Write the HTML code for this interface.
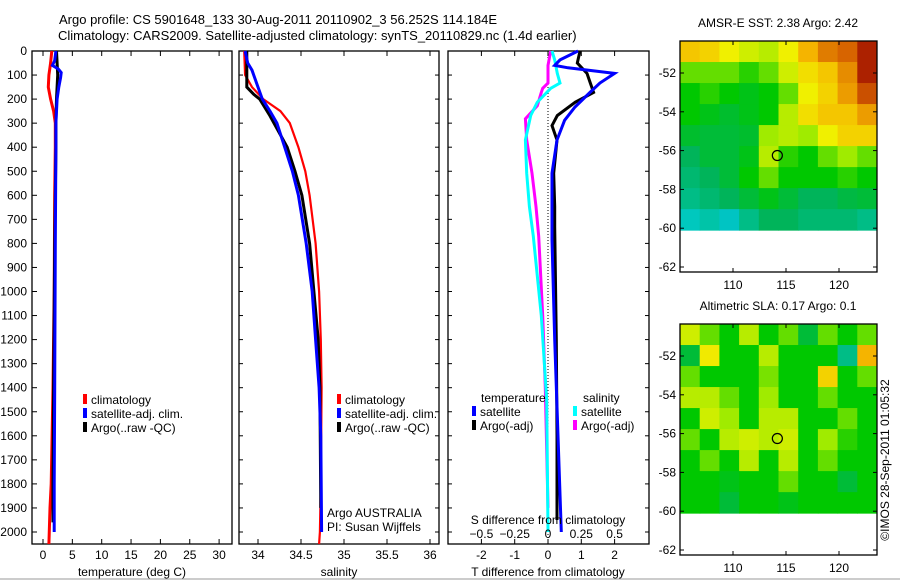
<!DOCTYPE html>
<html><head><meta charset="utf-8"><style>
html,body{margin:0;padding:0;background:#fff}
svg{display:block;font-family:"Liberation Sans",sans-serif;font-size:12px}
</style></head><body>
<svg id="c" width="900" height="580" viewBox="0 0 900 580">
<text x="59" y="24" font-size="13">Argo profile: CS 5901648_133 30-Aug-2011 20110902_3 56.252S 114.184E</text>
<text x="58" y="40" font-size="13">Climatology: CARS2009. Satellite-adjusted climatology: synTS_20110829.nc (1.4d earlier)</text>
<g id="p1"></g>
<g id="p2"></g>
<g id="p3"></g>
<g id="m1"></g>
<g id="m2"></g>
<text transform="translate(889,460) rotate(-90)" text-anchor="middle" font-size="12">©IMOS 28-Sep-2011 01:05:32</text>
<line x1="0" y1="579" x2="900" y2="579" stroke="#999" stroke-width="1"/>
</svg>
<script>
// ---- data ----
const depthTicks=[0,100,200,300,400,500,600,700,800,900,1000,1100,1200,1300,1400,1500,1600,1700,1800,1900,2000];
const tTicks=[0,5,10,15,20,25,30];
const sTicks=[34,34.5,35,35.5,36];
const dTTicks=[-2,-1,0,1,2];
const dSTicks=[-0.5,-0.25,0,0.25,0.5];
const tClimDepth=[0,50,100,150,200,250,300,400,600,1000,1400,1800,1900,2050];
const tClim=[1.5,1.3,1.0,0.9,1.3,1.8,2.1,2.1,2.0,1.9,1.7,1.4,1.2,1.0];
const tSatDepth=[0,40,60,75,90,110,150,200,300,400,800,1400,1800,2000];
const tSat=[2.2,2.0,1.6,2.6,3.1,3.0,2.7,2.4,2.2,2.2,2.1,2.0,1.9,1.9];
const tArgoDepth=[0,50,100,200,300,400,800,1400,1800,1960];
const tArgo=[2.3,2.4,2.5,2.3,2.2,2.2,2.0,1.8,1.7,1.7];
const sClimDepth=[0,100,150,200,250,300,400,500,600,800,1000,1200,1400,1800,2000,2050];
const sClim=[33.84,33.85,33.93,34.06,34.26,34.37,34.47,34.55,34.6,34.67,34.71,34.73,34.74,34.73,34.72,34.71];
const sSatDepth=[0,50,80,150,200,250,300,400,500,600,800,1000,1200,1400,1600,2000];
const sSat=[33.85,33.88,33.93,34.0,34.05,34.14,34.22,34.31,34.4,34.47,34.56,34.63,34.67,34.71,34.73,34.74];
const sArgoDepth=[0,150,180,200,270,400,500,600,800,1000,1200,1400,1900];
const sArgo=[33.87,33.87,33.95,34.02,34.14,34.34,34.43,34.51,34.6,34.65,34.7,34.72,34.73];
const dTSatDepth=[0,37,60,70,93,133,172,233,288,370,508,786,1200,1600,2000];
const dTSat=[0.9,0.36,0.2,0.6,2.0,1.56,1.26,0.81,0.5,0.27,0.12,0.12,0.2,0.3,0.4];
const dTArgoDepth=[0,50,93,133,172,213,268,310,370,508,647,730,1200,1600,1950];
const dTArgo=[0.96,0.88,1.17,1.27,1.37,0.82,0.28,0.12,0.27,0.17,0.2,0.2,0.25,0.27,0.27];
const dSSatDepth=[0,37,93,133,155,213,268,370,508,647,770,1100,1450,2000];
const dSSat=[0.03,0.05,0.07,0.09,0.02,-0.08,-0.13,-0.17,-0.16,-0.14,-0.11,-0.05,-0.01,0.0];
const dSArgoDepth=[0,60,100,133,155,172,228,282,370,508,647,770,1100,1400,1900];
const dSArgo=[0.02,0.0,0.0,0.0,-0.04,-0.05,-0.08,-0.17,-0.16,-0.12,-0.09,-0.07,-0.04,-0.02,0.0];
const lonTicks=[110,115,120];
const latTicks=[-52,-54,-56,-58,-60,-62];
const sstGrid=[
[0.72,0.7,0.65,0.62,0.6,0.65,0.75,0.82,0.85,0.95],
[0.55,0.55,0.55,0.52,0.55,0.62,0.68,0.72,0.8,0.95],
[0.5,0.52,0.5,0.48,0.5,0.55,0.65,0.7,0.78,0.88],
[0.5,0.48,0.46,0.48,0.5,0.6,0.68,0.72,0.72,0.78],
[0.46,0.45,0.45,0.46,0.58,0.6,0.58,0.65,0.7,0.7],
[0.42,0.45,0.45,0.48,0.6,0.52,0.5,0.55,0.58,0.55],
[0.4,0.42,0.45,0.5,0.55,0.5,0.5,0.5,0.52,0.5],
[0.38,0.4,0.42,0.45,0.48,0.45,0.42,0.42,0.44,0.45],
[0.33,0.35,0.32,0.38,0.42,0.42,0.4,0.4,0.4,0.38]];
const slaGrid=[
[0.62,0.55,0.5,0.6,0.5,0.55,0.45,0.55,0.5,0.55],
[0.45,0.66,0.5,0.5,0.6,0.5,0.5,0.5,0.38,0.75],
[0.55,0.5,0.5,0.5,0.56,0.5,0.5,0.7,0.5,0.55],
[0.6,0.6,0.55,0.5,0.58,0.5,0.5,0.55,0.5,0.5],
[0.5,0.62,0.58,0.5,0.6,0.6,0.5,0.5,0.55,0.5],
[0.55,0.5,0.6,0.62,0.6,0.62,0.5,0.58,0.52,0.5],
[0.5,0.55,0.5,0.6,0.5,0.6,0.5,0.55,0.5,0.5],
[0.5,0.5,0.48,0.5,0.5,0.55,0.5,0.5,0.45,0.5],
[0.5,0.5,0.45,0.5,0.5,0.48,0.5,0.5,0.5,0.5]];
const argoLon=114.184, argoLat=-56.252;

// ---- helpers ----
const NS="http://www.w3.org/2000/svg";
function mk(parent,tag,attrs){const e=document.createElementNS(NS,tag);for(const k in attrs)e.setAttribute(k,attrs[k]);parent.appendChild(e);return e;}
function txt(parent,x,y,s,anchor){const e=mk(parent,'text',{x:x,y:y,'text-anchor':anchor||'start'});e.textContent=s;return e;}
const yD=d=>51+d*0.2405;
const TOP=51,BOT=544;
function frame(g,x0,x1){
  const r=mk(g,'rect',{x:x0,y:TOP,width:x1-x0,height:BOT-TOP,fill:'none',stroke:'#000','stroke-width':1.3});
  
}
function line(g,xs,ds,fx,color,w,name){
  let p='';for(let i=0;i<xs.length;i++)p+=fx(xs[i]).toFixed(1)+','+yD(ds[i]).toFixed(1)+' ';
  const e=mk(g,'polyline',{points:p,fill:'none',stroke:color,'stroke-width':w,'stroke-linejoin':'miter'});
  
  
}
function xticks(g,ticks,fx,fmt){
  ticks.forEach(t=>{const x=fx(t);
    mk(g,'line',{x1:x,y1:TOP,x2:x,y2:TOP+5,stroke:'#000'});
    mk(g,'line',{x1:x,y1:BOT,x2:x,y2:BOT-5,stroke:'#000'});
    const e=txt(g,x,559,fmt?fmt(t):String(t),'middle');
    
    
  });
}
function legendBar(g,x,y,color,label){
  mk(g,'rect',{x:x,y:y-10,width:4,height:10,fill:color});
  const e=txt(g,x+8,y,label);
  
  
}

// ---- panel 1 ----
const p1=document.getElementById('p1');
const fT=t=>43+t*5.87;
frame(p1,32,232);
depthTicks.forEach(d=>{const y=yD(d);
  mk(p1,'line',{x1:32,y1:y,x2:37,y2:y,stroke:'#000'});
  const e=txt(p1,27,y+4,String(d),'end');
  
  
});
xticks(p1,tTicks,fT);
line(p1,tClim,tClimDepth,fT,'#f00',3,'temp-climatology-line');
line(p1,tArgo,tArgoDepth,fT,'#000',3,'temp-argo-line');
line(p1,tSat,tSatDepth,fT,'#00f',3,'temp-satellite-line');
legendBar(p1,83,404,'#f00','climatology');
legendBar(p1,83,418,'#00f','satellite-adj. clim.');
legendBar(p1,83,432,'#000','Argo(..raw -QC)');
const t1=txt(p1,132,576,'temperature (deg C)','middle');

// ---- panel 2 ----
const p2=document.getElementById('p2');
const fS=s=>258+(s-34)*86;
frame(p2,239,439);
depthTicks.forEach(d=>{const y=yD(d);
  mk(p2,'line',{x1:239,y1:y,x2:243,y2:y,stroke:'#000'});
  mk(p2,'line',{x1:439,y1:y,x2:435,y2:y,stroke:'#000'});});
xticks(p2,sTicks,fS);
line(p2,sClim,sClimDepth,fS,'#f00',2.2,'sal-climatology-line');
line(p2,sArgo,sArgoDepth,fS,'#000',3,'sal-argo-line');
line(p2,sSat,sSatDepth,fS,'#00f',3,'sal-satellite-line');
legendBar(p2,337,404,'#f00','climatology');
legendBar(p2,337,418,'#00f','satellite-adj. clim.');
legendBar(p2,337,432,'#000','Argo(..raw -QC)');
const a1=txt(p2,327,517,'Argo AUSTRALIA');
const a2=txt(p2,327,531,'PI: Susan Wijffels');
const t2=txt(p2,339,576,'salinity','middle');

// ---- panel 3 ----
const p3=document.getElementById('p3');
const fDT=t=>548+t*33.3;
const fDS=s=>548+s*133.2;
frame(p3,448,649);
depthTicks.forEach(d=>{const y=yD(d);
  mk(p3,'line',{x1:448,y1:y,x2:452,y2:y,stroke:'#000'});
  mk(p3,'line',{x1:649,y1:y,x2:645,y2:y,stroke:'#000'});});
xticks(p3,dTTicks,fDT);
mk(p3,'line',{x1:548,y1:TOP,x2:548,y2:BOT,stroke:'#000','stroke-width':1,'stroke-dasharray':'1,2'});
line(p3,dSArgo,dSArgoDepth,fDS,'#f0f',3,'sal-diff-argo-line');
line(p3,dSSat,dSSatDepth,fDS,'#0ff',3,'sal-diff-satellite-line');
line(p3,dTArgo,dTArgoDepth,fDT,'#000',3,'temp-diff-argo-line');
line(p3,dTSat,dTSatDepth,fDT,'#00f',3,'temp-diff-satellite-line');
dSTicks.forEach(s=>{const e=txt(p3,fDS(s),538,String(s).replace('-','\u2212'),'middle');
  
  });
const sd=txt(p3,548,524,'S difference from climatology','middle');
const td=txt(p3,548,576,'T difference from climatology','middle');
const lt=txt(p3,481,402,'temperature');
const ls=txt(p3,583,402,'salinity');
legendBar(p3,472,416,'#00f','satellite');
legendBar(p3,472,430,'#000','Argo(-adj)');
legendBar(p3,573,416,'#0ff','satellite');
legendBar(p3,573,430,'#f0f','Argo(-adj)');

// ---- maps ----
const stops=[[0.0,[0,0,200]],[0.2,[0,150,255]],[0.33,[0,200,190]],[0.42,[0,180,90]],[0.5,[0,200,0]],[0.58,[160,235,0]],[0.65,[240,240,0]],[0.75,[245,180,0]],[0.85,[215,100,0]],[1.0,[150,0,0]]];
function cmap(v){for(let i=1;i<stops.length;i++){if(v<=stops[i][0]){const a=stops[i-1],b=stops[i],f=(v-a[0])/(b[0]-a[0]);
  return 'rgb('+a[1].map((c,k)=>Math.round(c+(b[1][k]-c)*f)).join(',')+')';}}return 'rgb(150,0,0)';}
function drawMap(id,oy,grid,title){
  const g=document.getElementById(id);
  const fLon=l=>733+(l-110)*10.6;
  const fLat=l=>oy+73+(-52-l)*19.4;
  const x0=680,x1=877,yTop=oy+41,yBot=oy+272,yData=fLat(-60.1);
  const rows=grid.length,cols=grid[0].length,cw=(x1-x0)/cols,ch=(yData-yTop)/rows;
  grid.forEach((row,r)=>row.forEach((v,c)=>{
    const e=mk(g,'rect',{x:x0+c*cw,y:yTop+r*ch,width:cw+0.5,height:ch+0.5,fill:cmap(v)});
    
    
  }));
  mk(g,'rect',{x:x0,y:yTop,width:x1-x0,height:yBot-yTop,fill:'none',stroke:'#000','stroke-width':1.3});
  lonTicks.forEach(l=>{const x=fLon(l);
    mk(g,'line',{x1:x,y1:yTop,x2:x,y2:yTop+4,stroke:'#000'});
    mk(g,'line',{x1:x,y1:yBot,x2:x,y2:yBot-4,stroke:'#000'});
    const e=txt(g,x,yBot+17,String(l),'middle');
    
    });
  latTicks.forEach(l=>{const y=fLat(l);
    mk(g,'line',{x1:x0,y1:y,x2:x0+4,y2:y,stroke:'#000'});
    mk(g,'line',{x1:x1,y1:y,x2:x1-4,y2:y,stroke:'#000'});
    const e=txt(g,676,y+4,String(l),'end');
    
    });
  const c=mk(g,'circle',{cx:fLon(argoLon),cy:fLat(argoLat),r:5,fill:'none',stroke:'#000','stroke-width':1.2});
  
  
  const t=txt(g,778,oy+27,title,'middle');
  
  
}
drawMap('m1',0,sstGrid,'AMSR-E SST: 2.38 Argo: 2.42');
drawMap('m2',283,slaGrid,'Altimetric SLA: 0.17 Argo: 0.1');
</script>
</body></html>
